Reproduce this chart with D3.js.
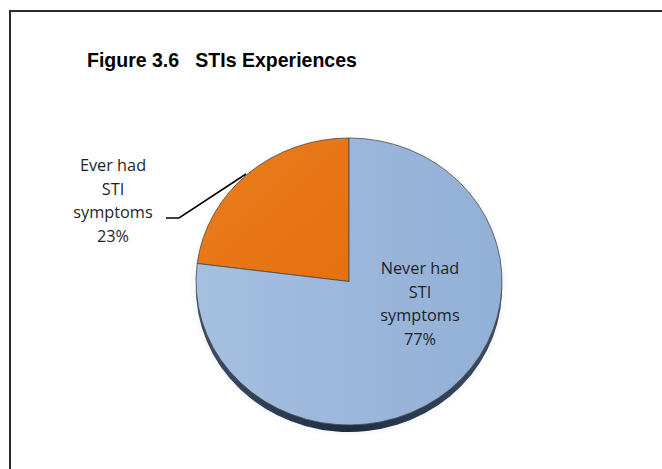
<!DOCTYPE html>
<html>
<head>
<meta charset="utf-8">
<script src="https://cdn.jsdelivr.net/npm/d3@7/dist/d3.min.js"></script>
<style>
  html, body { margin: 0; padding: 0; background: #fff; }
  svg { display: block; }
</style>
</head>
<body>
<svg id="chart" width="662" height="469"></svg>
<script>
// Survey responses on STI symptoms (percent of respondents)
const categories = ["Ever had STI symptoms", "Never had STI symptoms"];
const values = [23, 77];
const labelLines = [["Ever had", "STI", "symptoms"], ["Never had", "STI", "symptoms"]];
const title = "Figure 3.6   STIs Experiences";

const svg = d3.select("#chart");
const W = 662, H = 469;

// outer frame (right and bottom edges run past the page)
svg.append("rect")
  .attr("x", 10).attr("y", 11)
  .attr("width", W + 20).attr("height", H + 20)
  .attr("fill", "#fff").attr("stroke", "#2a2a2a").attr("stroke-width", 2);

svg.append("text")
  .attr("x", 87).attr("y", 67)
  .attr("font-family", "Liberation Sans, Arial, sans-serif")
  .attr("font-weight", "bold").attr("font-size", 19.5)
  .attr("fill", "#000")
  .attr("xml:space", "preserve")
  .text(title);

const cx = 349, cy = 281.5, rx = 153, ry = 143.5, depth = 7;

const defs = svg.append("defs");
const gBlue = defs.append("linearGradient").attr("id", "gBlue")
  .attr("x1", "0%").attr("x2", "100%").attr("y1", "0%").attr("y2", "0%");
gBlue.append("stop").attr("offset", "0%").attr("stop-color", "#a5bfe0");
gBlue.append("stop").attr("offset", "100%").attr("stop-color", "#92afd6");
const gOrange = defs.append("linearGradient").attr("id", "gOrange")
  .attr("x1", "0%").attr("x2", "100%").attr("y1", "0%").attr("y2", "100%");
gOrange.append("stop").attr("offset", "0%").attr("stop-color", "#ec7c1e");
gOrange.append("stop").attr("offset", "100%").attr("stop-color", "#e4710f");
const gSide = defs.append("linearGradient").attr("id", "gSide")
  .attr("x1", "0%").attr("x2", "100%").attr("y1", "0%").attr("y2", "0%");
gSide.append("stop").attr("offset", "0%").attr("stop-color", "#3c4d66");
gSide.append("stop").attr("offset", "50%").attr("stop-color", "#1f2d42");
gSide.append("stop").attr("offset", "100%").attr("stop-color", "#3c4d66");
const blur = defs.append("filter").attr("id", "soft")
  .attr("x", "-10%").attr("y", "-10%").attr("width", "120%").attr("height", "120%");
blur.append("feGaussianBlur").attr("stdDeviation", 3);

const color = d3.scaleOrdinal().domain(categories).range(["url(#gOrange)", "url(#gBlue)"]);

// orange slice runs counter-clockwise from 12 o'clock, blue fills the rest
const total = d3.sum(values);
const pie = d3.pie().sort(null).value(d => d)
  .startAngle(-2 * Math.PI * values[0] / total)
  .endAngle(2 * Math.PI - 2 * Math.PI * values[0] / total);
const arcs = pie(values);
const arc = d3.arc().innerRadius(0).outerRadius(rx);
const sy = ry / rx;

// soft halo around the disc
svg.append("ellipse")
  .attr("cx", cx).attr("cy", cy + 4).attr("rx", rx + 2).attr("ry", ry + 4)
  .attr("fill", "#e6e9ee").attr("filter", "url(#soft)").attr("opacity", 0.6);

// side wall of the disc
svg.append("g")
  .attr("transform", `translate(${cx},${cy + depth}) scale(1,${sy})`)
  .selectAll("path").data(arcs).join("path")
  .attr("d", arc)
  .attr("fill", (d, i) => i === 0 ? "#9a4a08" : "url(#gSide)");

// top faces
svg.append("g")
  .attr("transform", `translate(${cx},${cy}) scale(1,${sy})`)
  .selectAll("path").data(arcs).join("path")
  .attr("d", arc)
  .attr("fill", (d, i) => color(categories[i]))
  .attr("stroke", "#4a4a4a").attr("stroke-width", 0.8)
  .attr("vector-effect", "non-scaling-stroke");

const fmt = v => v + "%";
const labelFont = "'Open Sans', Lato, sans-serif";
const lineH = 23.5;

// leader line for the small slice
svg.append("polyline")
  .attr("points", [[166, 218], [179, 218], [246, 174]].map(p => p.join(",")).join(" "))
  .attr("fill", "none").attr("stroke", "#000").attr("stroke-width", 1.5);

const labelPos = [[113, 171], [420, 274]];
arcs.forEach((a, i) => {
  const lines = labelLines[i].concat([fmt(values[i])]);
  const t = svg.append("text")
    .attr("font-family", labelFont).attr("font-size", 16.3)
    .attr("fill", "#1f1f1f").attr("text-anchor", "middle");
  lines.forEach((s, k) => {
    t.append("tspan").attr("x", labelPos[i][0]).attr("y", labelPos[i][1] + k * lineH).text(s);
  });
});
</script>
</body>
</html>
